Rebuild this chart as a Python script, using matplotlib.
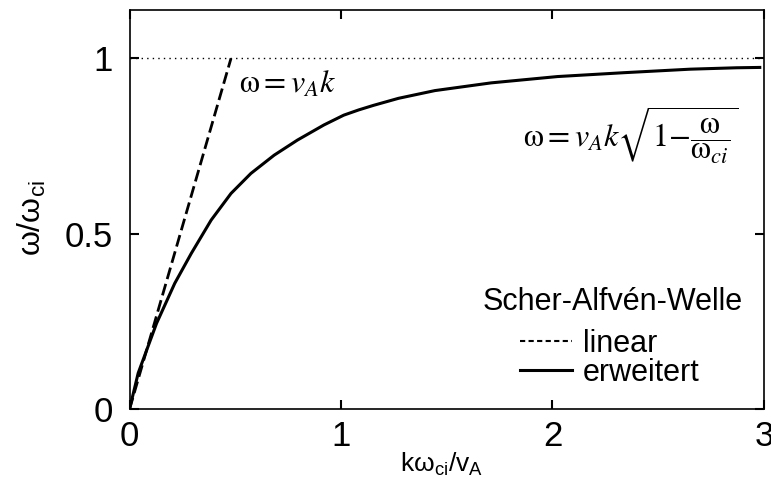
import matplotlib
matplotlib.use("Agg")
import matplotlib.pyplot as plt
from matplotlib.lines import Line2D

# -------- DATA --------
# extended dispersion relation (solid curve)
K_EXT = [0, 0.041, 0.128, 0.214, 0.292, 0.386, 0.480, 0.574, 0.684, 0.794,
         0.919, 1.013, 1.084, 1.154, 1.272, 1.444, 1.710, 2.024, 2.338,
         2.651, 2.870, 2.98]
W_EXT = [0, 0.103, 0.245, 0.359, 0.444, 0.539, 0.615, 0.672, 0.724, 0.767,
         0.810, 0.838, 0.853, 0.866, 0.886, 0.908, 0.930, 0.948, 0.959,
         0.969, 0.973, 0.974]

# linear relation (dashed)
K_LIN = [0, 0.48]
W_LIN = [0, 1.0]

# ion cyclotron limit (dotted)
K_LIMIT = [0, 3]
W_LIMIT = [1, 1]

X_TICKS = [0, 1, 2, 3]
X_TICKLABELS = ["0", "1", "2", "3"]
Y_TICKS = [0, 0.5, 1]
Y_TICKLABELS = ["0", "0.5", "1"]

LEGEND_TITLE = "Scher-Alfvén-Welle"
LEGEND_LABELS = ["linear", "erweitert"]
# ------------------------------------------------

plt.rcParams["font.family"] = ["Liberation Sans", "DejaVu Sans"]
plt.rcParams["mathtext.fontset"] = "custom"
plt.rcParams["mathtext.rm"] = "Liberation Sans"
plt.rcParams["mathtext.it"] = "Liberation Sans:italic"


def main():
    fig = plt.figure(figsize=(7.71, 4.88), dpi=100)
    ax = fig.add_axes([129.5 / 771, 1 - 409.3 / 488,
                       (764 - 129.5) / 771, (409.3 - 10) / 488])

    ax.plot(K_LIMIT, W_LIMIT, color="black", lw=1.0, ls=(0, (1, 3)))
    ax.plot(K_LIN, W_LIN, color="black", lw=2.0, ls=(0, (4.3, 1.8)))
    ax.plot(K_EXT, W_EXT, color="black", lw=2.2, solid_joinstyle="round")

    ax.set_xlim(0, 3)
    ax.set_ylim(0, 1.1376)
    ax.set_xticks(X_TICKS)
    ax.set_xticklabels(X_TICKLABELS)
    ax.set_yticks(Y_TICKS)
    ax.set_yticklabels(Y_TICKLABELS)
    ax.tick_params(direction="in", length=6.5, width=1.5, top=True,
                   right=True, labelsize=25)
    ax.tick_params(axis="x", pad=8)
    ax.tick_params(axis="y", pad=12)
    for sp in ax.spines.values():
        sp.set_linewidth(1.2)

    ax.set_xlabel(r"$\mathrm{kω_{ci}/v_A}$", fontsize=19)
    ax.xaxis.set_label_coords(0.492, -0.105)
    ax.set_ylabel(r"$\mathrm{ω/ω_{ci}}$", fontsize=23)
    ax.yaxis.set_label_coords(-0.128, 0.48)

    # formula labels
    ax.text(0.52, 0.924, r"$\mathrm{\omega} = v_A k$", fontsize=23,
            math_fontfamily="stix", ha="left", va="center")
    ax.text(1.86, 0.78,
            r"$\mathrm{\omega} = v_A k\sqrt{1{-}\dfrac{\mathrm{\omega}}{\mathrm{\omega}_{ci}}}$",
            fontsize=23, math_fontfamily="stix", ha="left", va="center")

    # legend title as separate text, entries via legend
    ax.text(0.761, 0.269, LEGEND_TITLE, transform=ax.transAxes,
            fontsize=22, ha="center", va="center")
    handles = [Line2D([], [], color="black", lw=1.5, ls=(0, (2.5, 1.6))),
               Line2D([], [], color="black", lw=2.2)]
    ax.legend(handles, LEGEND_LABELS, loc="center left",
              bbox_to_anchor=(0.6155, 0.128), frameon=False, fontsize=22,
              handlelength=1.7, handletextpad=0.36,
              labelspacing=-0.03, borderpad=0, borderaxespad=0)

    fig.savefig("out.png", dpi=100)


if __name__ == "__main__":
    main()
